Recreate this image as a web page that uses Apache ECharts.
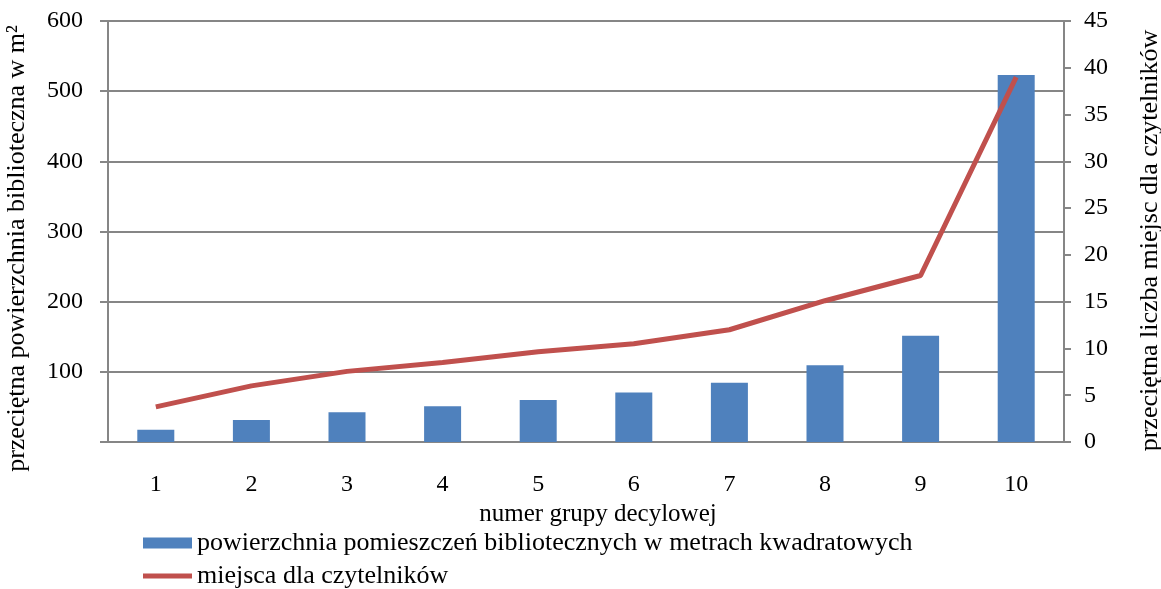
<!DOCTYPE html>
<html>
<head>
<meta charset="utf-8">
<script src="https://cdn.jsdelivr.net/npm/echarts@6/dist/echarts.min.js"></script>
<style>
  html, body { margin: 0; padding: 0; background: #fff; }
  #chart { width: 1161px; height: 589px; }
</style>
</head>
<body>
<div id="chart"></div>
<script>
// numer grupy decylowej
const categories = ["1", "2", "3", "4", "5", "6", "7", "8", "9", "10"];
// powierzchnia (m2), lewa oś
const areaValues = [17.5, 31.5, 42.5, 51, 60, 70.5, 84.5, 109.5, 151.5, 523];
// miejsca dla czytelników, prawa oś
const seatValues = [3.75, 6, 7.55, 8.5, 9.65, 10.5, 12, 15.1, 17.8, 39];

const leftTicks = [0, 600, 100];
const rightTicks = [0, 45, 5];

const barName = "powierzchnia pomieszczeń bibliotecznych w metrach kwadratowych";
const lineName = "miejsca dla czytelników";

const font = "Liberation Serif";
const gray = "#868686";

let myChart = echarts.init(document.getElementById("chart"));

const legendText = { fontFamily: font, fontSize: 26, color: "#000" };

myChart.setOption({
  animation: false,
  textStyle: { fontFamily: font, color: "#000" },
  grid: { left: 108, right: 97, top: 21, bottom: 147, outerBoundsMode: "none", containLabel: false },
  legend: [
    {
      left: 138,
      top: 525,
      itemWidth: 49,
      itemHeight: 11,
      textStyle: legendText,
      data: [{ name: barName, icon: "rect" }]
    },
    {
      left: 138,
      top: 558,
      itemWidth: 49,
      itemHeight: 5,
      textStyle: legendText,
      data: [{ name: lineName, icon: "rect" }]
    }
  ],
  xAxis: {
    type: "category",
    data: categories,
    name: "numer grupy decylowej",
    nameLocation: "middle",
    nameGap: 48,
    nameTextStyle: { fontFamily: font, fontSize: 25, color: "#000", padding: [0, 0, 0, 24] },
    axisLine: { lineStyle: { color: gray, width: 2 } },
    axisTick: { length: 8, lineStyle: { color: gray, width: 2 } },
    axisLabel: { fontFamily: font, fontSize: 24, color: "#000", margin: 31 }
  },
  yAxis: [
    {
      type: "value",
      min: leftTicks[0],
      max: leftTicks[1],
      interval: leftTicks[2],
      name: "przeciętna powierzchnia biblioteczna w m²",
      nameLocation: "middle",
      nameGap: 78,
      nameTextStyle: { fontFamily: font, fontSize: 26, color: "#000", padding: [0, 0, 0, -34] },
      axisLine: { show: true, lineStyle: { color: gray, width: 2 } },
      axisTick: { show: true, length: 8, lineStyle: { color: gray, width: 2 } },
      axisLabel: {
        fontFamily: font, fontSize: 24, color: "#000", margin: 25,
        formatter: v => (v === 0 ? "" : v)
      },
      splitLine: { show: true, lineStyle: { color: gray, width: 2 } }
    },
    {
      type: "value",
      min: rightTicks[0],
      max: rightTicks[1],
      interval: rightTicks[2],
      name: "przeciętna liczba miejsc dla czytelników",
      nameLocation: "middle",
      nameGap: 73,
      nameTextStyle: { fontFamily: font, fontSize: 26, color: "#000", padding: [0, 0, 0, -18] },
      axisLine: { show: true, lineStyle: { color: gray, width: 2 } },
      axisTick: { show: true, length: 7, lineStyle: { color: gray, width: 2 } },
      axisLabel: { fontFamily: font, fontSize: 24, color: "#000", margin: 20 },
      splitLine: { show: false }
    }
  ],
  series: [
    {
      name: barName,
      type: "bar",
      yAxisIndex: 0,
      data: areaValues,
      barWidth: 37,
      itemStyle: { color: "#4F81BD" }
    },
    {
      name: lineName,
      type: "line",
      yAxisIndex: 1,
      data: seatValues,
      symbol: "none",
      lineStyle: { color: "#C0504D", width: 5 },
      itemStyle: { color: "#C0504D" }
    }
  ]
});
</script>
</body>
</html>
